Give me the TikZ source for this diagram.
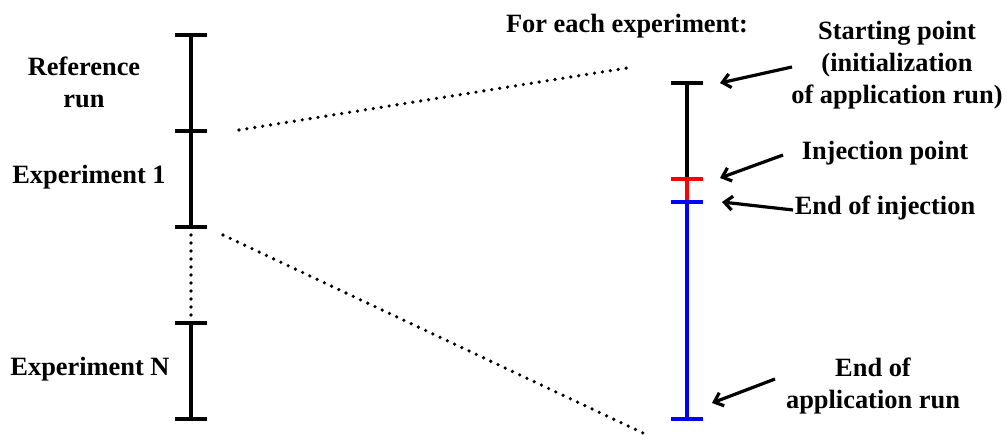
\documentclass[tikz,border=0pt]{standalone}
\usepackage{fontspec}
\setmainfont{Liberation Serif}[BoldFont={Liberation Serif Bold}]
\usetikzlibrary{arrows.meta}
\tikzset{
  lbl/.style={font=\fontsize{26.4}{32}\selectfont\bfseries, align=center, inner sep=0pt},
  bar/.style={line width=3.8pt},
  tickL/.style={line width=4.2pt},
  rbar/.style={line width=3.2pt},
  dotline/.style={line width=3.6pt, line cap=round, dash pattern=on 0pt off 8pt},
  pointer/.style={line width=3.2pt, -{Straight Barb[length=8pt,width=14pt,line width=3.2pt]}}
}
\begin{document}
\begin{tikzpicture}[x=1pt,y=-1pt]
\useasboundingbox (0,0) rectangle (1007,435);
% left timeline coordinates
\coordinate (L0) at (191,35);
\coordinate (L1) at (191,131);
\coordinate (L2) at (191,227);
\coordinate (L3) at (191,323);
\coordinate (L4) at (191,419);
\draw[bar] (L0) -- (L2);
\draw[bar] (L3) -- (L4);
\draw[dotline] ([yshift=-8]L2) -- ([yshift=8]L3);
\foreach \p in {L0,L1,L2,L3,L4} \draw[tickL] ([xshift=-16]\p) -- ([xshift=16]\p);
% left labels
\node[lbl] (ref) at (84,82) {Reference\\run};
\node[lbl] (exp1) at (89,177) {Experiment 1};
\node[lbl] (expN) at (90,369) {Experiment N};
% right timeline
\coordinate (R0) at (687,83);
\coordinate (R1) at (687,179);
\coordinate (R2) at (687,202);
\coordinate (R3) at (687,419);
\draw[rbar] (R0) -- (R1);
\draw[rbar,red] (R1) -- (R2);
\draw[rbar,blue] (R2) -- (R3);
\draw[rbar] ([xshift=-16]R0) -- ([xshift=16]R0);
\draw[rbar,red] ([xshift=-16]R1) -- ([xshift=16]R1);
\draw[rbar,blue] ([xshift=-16]R2) -- ([xshift=16]R2);
\draw[rbar,blue] ([xshift=-16]R3) -- ([xshift=16]R3);
% title
\node[lbl] (title) at (627,26) {For each experiment:};
% zoom lines
\coordinate (Z1a) at (239,130);
\coordinate (Z1b) at (627,68);
\coordinate (Z2a) at (223,235);
\coordinate (Z2b) at (643,433);
\draw[dotline] (Z1a) -- (Z1b);
\draw[dotline] (Z2a) -- (Z2b);
% right labels
\node[lbl] (start) at (897,65) {Starting point\\(initialization\\of application run)};
\node[lbl] (inj) at (885,153) {Injection point};
\node[lbl] (endinj) at (885,208) {End of injection};
\node[lbl] (endrun) at (873,386) {End of\\application run};
% arrows
\coordinate (A1) at (792,67);
\coordinate (A2) at (783,155);
\coordinate (A3) at (793,210);
\coordinate (A4) at (775,379);
\draw[pointer] (A1) -- ([xshift=33]R0);
\draw[pointer] (A2) -- ([xshift=33,yshift=1]R1);
\draw[pointer] (A3) -- ([xshift=35]R2);
\draw[pointer] (A4) -- ([xshift=25,yshift=16]R3);
\end{tikzpicture}
\end{document}
